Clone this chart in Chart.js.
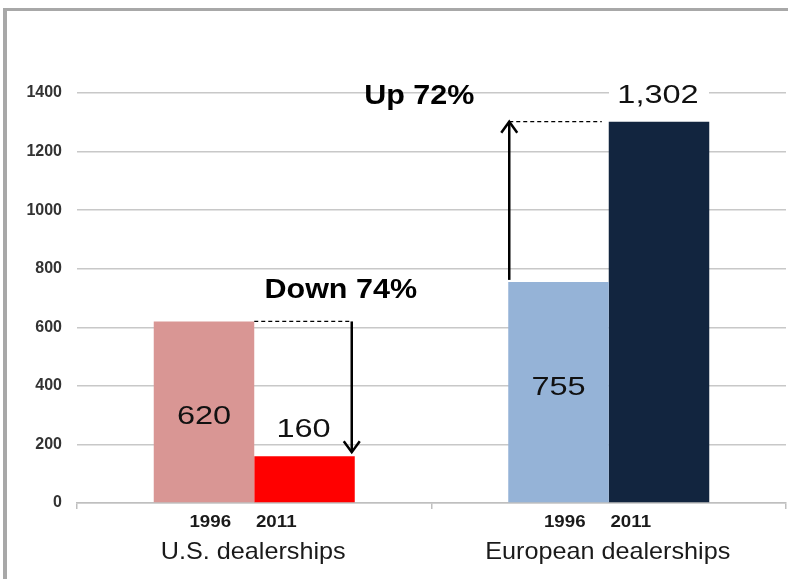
<!DOCTYPE html>
<html>
<head>
<meta charset="utf-8">
<script src="https://cdn.jsdelivr.net/npm/chart.js@4.4.0/dist/chart.umd.min.js"></script>
<style>
  html, body { margin: 0; padding: 0; background: #fff; }
  #wrap { width: 788px; height: 579px; }
</style>
</head>
<body>
<div id="wrap"><canvas id="dealers-chart" width="788" height="579"></canvas></div>
<script>
// Chart data
const groups = ['U.S. dealerships', 'European dealerships'];
const years = ['1996', '2011'];
const values1996 = [620, 755];
const values2011 = [160, 1302];
const colors1996 = ['#d99694', '#95b3d7'];
const colors2011 = ['#ff0000', '#12253f'];
const yMax = 1400;
const yStep = 200;
const changeLabels = ['Down 74%', 'Up 72%'];

const FONT = '"Liberation Sans", Arial, sans-serif';

function stretchText(ctx, text, x, y, size, weight, sx, color) {
    ctx.save();
    ctx.font = weight + ' ' + size + 'px ' + FONT;
    ctx.fillStyle = color;
    ctx.textAlign = 'center';
    ctx.textBaseline = 'middle';
    ctx.translate(x, y);
    ctx.scale(sx, 1);
    ctx.fillText(text, 0, 0);
    ctx.restore();
}

function arrow(ctx, x, yFrom, yTo) {
    const dir = yTo > yFrom ? 1 : -1;
    ctx.save();
    ctx.strokeStyle = '#000';
    ctx.lineWidth = 2.5;
    ctx.beginPath();
    ctx.moveTo(x, yFrom);
    ctx.lineTo(x, yTo);
    ctx.stroke();
    ctx.beginPath();
    ctx.moveTo(x - 8, yTo - dir * 11);
    ctx.lineTo(x, yTo);
    ctx.lineTo(x + 8, yTo - dir * 11);
    ctx.stroke();
    ctx.restore();
}

function dashed(ctx, x1, x2, y) {
    ctx.save();
    ctx.strokeStyle = '#000';
    ctx.lineWidth = 1.2;
    ctx.setLineDash([4, 3]);
    ctx.beginPath();
    ctx.moveTo(x1, y);
    ctx.lineTo(x2, y);
    ctx.stroke();
    ctx.restore();
}

const annotations = {
    id: 'annotations',
    beforeDraw(chart) {
        const ctx = chart.ctx;
        ctx.save();
        ctx.fillStyle = '#fff';
        ctx.fillRect(0, 0, chart.width, chart.height);
        // frame
        ctx.fillStyle = '#a8a8a8';
        ctx.fillRect(3, 8, chart.width - 3, 3);
        ctx.fillRect(3, 8, 4, chart.height - 8);
        ctx.restore();
    },
    afterDatasetsDraw(chart) {
        const ctx = chart.ctx;
        const yScale = chart.scales.y;
        const xScale = chart.scales.x;
        const m0 = chart.getDatasetMeta(0).data;
        const m1 = chart.getDatasetMeta(1).data;

        // value labels inside the 1996 bars
        const inOffset = [5, -4];
        m0.forEach((bar, i) => {
            stretchText(ctx, String(values1996[i]), bar.x, (bar.y + bar.base) / 2 + inOffset[i], 26, 'normal', 1.25, '#111');
        });

        // value labels above the 2011 bars
        m1.forEach((bar, i) => {
            const txt = values2011[i].toLocaleString('en-US');
            if (i === 1) {
                ctx.save();
                ctx.fillStyle = '#fff';
                ctx.fillRect(bar.x - 50, bar.y - 41, 100, 30);
                ctx.restore();
            }
            stretchText(ctx, txt, bar.x - 1, bar.y - 26, 26, 'normal', 1.25, '#111');
        });

        // U.S. decrease
        const us0 = m0[0], us1 = m1[0];
        const yUs0 = yScale.getPixelForValue(values1996[0]);
        const yUs1 = yScale.getPixelForValue(values2011[0]);
        const xDown = us1.x + us1.width / 2 - 3;
        dashed(ctx, us0.x + us0.width / 2, xDown, yUs0);
        arrow(ctx, xDown, yUs0, yUs1 - 4);
        stretchText(ctx, changeLabels[0], us1.x + us1.width / 2 - 14, yUs0 - 31, 27, 'bold', 1.13, '#000');

        // European increase
        const eu0 = m0[1], eu1 = m1[1];
        const yEu0 = yScale.getPixelForValue(values1996[1]);
        const yEu1 = yScale.getPixelForValue(values2011[1]);
        const xUp = eu0.x - eu0.width / 2 + 1;
        dashed(ctx, xUp, eu1.x - eu1.width / 2 - 7, yEu1);
        arrow(ctx, xUp, yEu0 - 2, yEu1);
        stretchText(ctx, changeLabels[1], xUp - 90, yEu1 - 25, 27, 'bold', 1.13, '#000');

        // axis labels: years and groups
        groups.forEach((g, i) => {
            const cx = xScale.getPixelForValue(i);
            stretchText(ctx, years[0], cx - 44, 522, 17, 'bold', 1.1, '#1a1a1a');
            stretchText(ctx, years[1], cx + 22, 522, 17, 'bold', 1.1, '#1a1a1a');
            stretchText(ctx, g, cx - 1, 552, 24, 'normal', 1.05, '#1a1a1a');
        });
    }
};

const ctx = document.getElementById('dealers-chart').getContext('2d');
const dealersChart = new Chart(ctx, {
    type: 'bar',
    data: {
        labels: groups,
        datasets: [
            { label: years[0], data: values1996, backgroundColor: colors1996 },
            { label: years[1], data: values2011, backgroundColor: colors2011 }
        ]
    },
    options: {
        responsive: false,
        animation: false,
        devicePixelRatio: 1,
        layout: { padding: { top: 93, right: 2, left: 0, bottom: 0 } },
        datasets: { bar: { categoryPercentage: 0.567, barPercentage: 1.0 } },
        plugins: {
            legend: { display: false },
            tooltip: { enabled: false }
        },
        scales: {
            x: {
                grid: { drawOnChartArea: false, drawTicks: true, tickLength: 6, color: '#bfbfbf', lineWidth: 1.5, offset: true },
                border: { color: '#bfbfbf', width: 1.5 },
                ticks: { display: false },
                afterFit: function(scale) { scale.height = 76; }
            },
            y: {
                min: 0,
                max: yMax,
                ticks: {
                    stepSize: yStep,
                    padding: 15,
                    color: '#333',
                    font: { family: FONT, size: 16, weight: 'bold' },
                    callback: function(value) { return String(value); }
                },
                grid: { color: '#c8c8c8', lineWidth: 1.5, drawTicks: false },
                border: { display: false },
                afterFit: function(scale) { scale.width = 77; }
            }
        }
    },
    plugins: [annotations]
});
</script>
</body>
</html>
